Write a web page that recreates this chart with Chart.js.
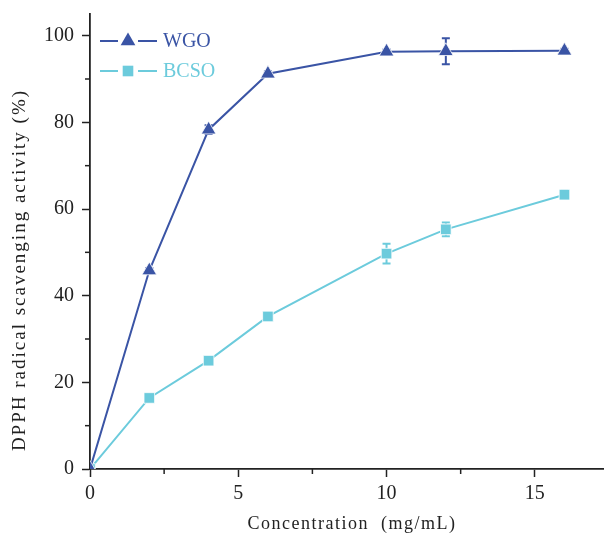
<!DOCTYPE html>
<html>
<head>
<meta charset="utf-8">
<script src="https://cdn.jsdelivr.net/npm/chart.js@4"></script>
<style>
  html, body { margin: 0; padding: 0; background: #fff; }
  #wrap { width: 605px; height: 542px; position: relative; }
</style>
</head>
<body>
<div id="wrap"><canvas id="c" width="605" height="542"></canvas></div>
<script>
// ---- data ----
const concentrations = [0, 2, 4, 6, 10, 12, 16];
const wgoValues = [0, 45.8, 78.3, 91.2, 96.3, 96.4, 96.5];
const wgoErrors = [0, 0.6, 1.0, 0.6, 0.5, 3.0, 0.5];
const bcsoValues = [0, 16.4, 25.0, 35.2, 49.7, 55.3, 63.3];
const bcsoErrors = [0, 0.8, 0.5, 0.5, 2.3, 1.6, 1.0];
const xTickValues = [0, 5, 10, 15];
const yTickValues = [0, 20, 40, 60, 80, 100];
const xMinorTicks = [2.5, 7.5, 12.5];
const yMinorTicks = [10, 30, 50, 70, 90];
const xTitle = 'Concentration  (mg/mL)';
const yTitle = 'DPPH radical scavenging activity (%)';

const WGO_COLOR = '#3a54a5';
const BCSO_COLOR = '#6ccbdc';
const AXIS_COLOR = '#222';
const FONT = '"Liberation Serif", "Times New Roman", serif';

const errs = [wgoErrors, bcsoErrors];

const errorBars = {
  id: 'errorBars',
  beforeDatasetsDraw(chart) {
    const ctx = chart.ctx;
    const xs = chart.scales.x, ys = chart.scales.y;
    chart.data.datasets.forEach((ds, i) => {
      const e = errs[i];
      ctx.save();
      ctx.strokeStyle = ds.borderColor;
      ctx.lineWidth = 2;
      ds.data.forEach((p, j) => {
        if (!e[j]) return;
        const px = xs.getPixelForValue(p.x);
        const top = ys.getPixelForValue(p.y + e[j]);
        const bot = ys.getPixelForValue(p.y - e[j]);
        ctx.beginPath();
        ctx.moveTo(px, top); ctx.lineTo(px, bot);
        ctx.moveTo(px - 4, top); ctx.lineTo(px + 4, top);
        ctx.moveTo(px - 4, bot); ctx.lineTo(px + 4, bot);
        ctx.stroke();
      });
      ctx.restore();
    });
  }
};

const decorations = {
  id: 'decorations',
  afterDraw(chart) {
    const ctx = chart.ctx;
    const xs = chart.scales.x, ys = chart.scales.y;
    const area = chart.chartArea;
    ctx.save();
    // minor ticks
    ctx.strokeStyle = AXIS_COLOR;
    ctx.lineWidth = 1.5;
    xMinorTicks.forEach(v => {
      const px = xs.getPixelForValue(v);
      ctx.beginPath(); ctx.moveTo(px, area.bottom); ctx.lineTo(px, area.bottom + 5); ctx.stroke();
    });
    yMinorTicks.forEach(v => {
      const py = ys.getPixelForValue(v);
      ctx.beginPath(); ctx.moveTo(area.left, py); ctx.lineTo(area.left - 5, py); ctx.stroke();
    });
    // x title
    ctx.fillStyle = AXIS_COLOR;
    ctx.font = '18px ' + FONT;
    ctx.letterSpacing = '1.5px';
    ctx.textAlign = 'center';
    ctx.textBaseline = 'middle';
    ctx.fillText(xTitle, 352, 524);
    // y title
    ctx.font = '19px ' + FONT;
    ctx.letterSpacing = '2px';
    ctx.translate(20, 270);
    ctx.rotate(-Math.PI / 2);
    ctx.fillText(yTitle, 0, 0);
    ctx.restore();

    // legend
    ctx.save();
    chart.data.datasets.forEach((ds, i) => {
      const y = 41 + i * 30;
      ctx.strokeStyle = ds.borderColor;
      ctx.lineWidth = 2;
      ctx.beginPath();
      ctx.moveTo(100, y); ctx.lineTo(118, y);
      ctx.moveTo(138, y); ctx.lineTo(157, y);
      ctx.stroke();
      ctx.fillStyle = ds.borderColor;
      Chart.helpers.drawPoint(ctx, {
        pointStyle: ds.pointStyle, radius: ds.pointRadius, borderWidth: 0, rotation: 0
      }, 128, y);
      ctx.font = '20px ' + FONT;
      ctx.textAlign = 'left';
      ctx.textBaseline = 'middle';
      ctx.fillText(ds.label, 163, y + 1);
    });
    ctx.restore();
  }
};

const mk = (xsArr, ysArr) => xsArr.map((x, i) => ({ x, y: ysArr[i] }));

new Chart(document.getElementById('c'), {
  type: 'scatter',
  data: {
    datasets: [
      {
        label: 'WGO',
        data: mk(concentrations, wgoValues),
        showLine: true,
        borderColor: WGO_COLOR,
        backgroundColor: WGO_COLOR,
        borderWidth: 2,
        pointStyle: 'triangle',
        pointRadius: 8.5,
        pointBorderColor: '#fff',
        pointBorderWidth: 0.8,
        pointHoverRadius: 8.5
      },
      {
        label: 'BCSO',
        data: mk(concentrations, bcsoValues),
        showLine: true,
        borderColor: BCSO_COLOR,
        backgroundColor: BCSO_COLOR,
        borderWidth: 2,
        pointStyle: 'rect',
        pointRadius: 7.5,
        pointBorderColor: '#fff',
        pointBorderWidth: 0.8,
        pointHoverRadius: 7.5
      }
    ]
  },
  options: {
    responsive: false,
    animation: false,
    events: [],
    layout: { autoPadding: false, padding: { top: 14, right: 2, left: 0, bottom: 0 } },
    plugins: { legend: { display: false }, tooltip: { enabled: false } },
    scales: {
      x: {
        type: 'linear',
        min: 0,
        max: 17.3,
        afterBuildTicks: s => { s.ticks = xTickValues.map(v => ({ value: v })); },
        afterFit: s => { s.height = 73; },
        grid: { drawOnChartArea: false, tickLength: 8, tickWidth: 1.5, tickColor: AXIS_COLOR },
        border: { display: true, color: AXIS_COLOR, width: 1.8 },
        ticks: { color: AXIS_COLOR, font: { family: FONT, size: 20 }, padding: 5, maxRotation: 0 }
      },
      y: {
        type: 'linear',
        min: 0,
        max: 105,
        afterBuildTicks: s => { s.ticks = yTickValues.map(v => ({ value: v })); },
        afterFit: s => { s.width = 90; s.paddingTop = 0; s.paddingBottom = 0; },
        grid: { drawOnChartArea: false, tickLength: 8, tickWidth: 1.5, tickColor: AXIS_COLOR },
        border: { display: true, color: AXIS_COLOR, width: 1.8 },
        ticks: { color: AXIS_COLOR, font: { family: FONT, size: 20, lineHeight: 0.6 }, padding: 8 }
      }
    }
  },
  plugins: [errorBars, decorations]
});
</script>
</body>
</html>
